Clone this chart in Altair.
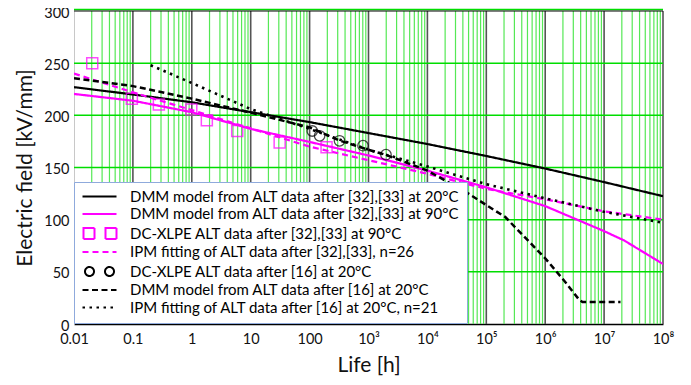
import altair as alt
import pandas as pd

# ---------------- data ----------------
series_names = [
    "DMM model from ALT data after [32],[33] at 20°C",
    "DMM model from ALT data after [32],[33] at 90°C",
    "DC-XLPE ALT data after [32],[33] at 90°C",
    "IPM fitting of ALT data after [32],[33], n=26",
    "DC-XLPE ALT data after [16] at 20°C",
    "DMM model from ALT data after [16] at 20°C",
    "IPM fitting of ALT data after [16] at 20°C, n=21",
]

dmm20_t = [0.01, 0.1, 1, 10, 100, 1e3, 1e4, 1e5, 1e6, 1e7, 1e8]
dmm20_e = [227, 220, 212.5, 203, 193.5, 183, 172.5, 161, 149, 136, 122.5]

dmm90_t = [0.01, 0.1, 1, 10, 100, 1e3, 1e4, 1e5, 1e6, 1e7, 2.2e7, 1e8]
dmm90_e = [220.5, 214, 203, 187, 174.5, 161.5, 147, 131, 113, 89, 80, 57.5]

sq90_t = [0.0204, 0.096, 0.276, 0.98, 1.8, 5.9, 31, 194]
sq90_e = [250, 216, 210.3, 205.7, 195.3, 185.1, 174, 169.5]

ipm26_t = [0.01, 0.1, 1, 10, 100, 1e3, 1e4, 1e5, 1e6, 1e7, 1e8]
ipm26_e = [240, 222, 205, 187.5, 170, 157, 144, 129.5, 119.5, 108, 100]

circ20_t = [111, 148, 322, 807, 1980]
circ20_e = [185, 180.4, 175.6, 170.9, 162.3]

dmm16_t = [0.01, 0.1, 1, 10, 100, 316, 1e3, 2e3, 1e4, 4.5e4, 1e5, 2.1e5,
           1e6, 2.24e6, 3.8e6, 4.3e6, 1.9e7]
dmm16_e = [235.5, 228, 216, 202.5, 188.5, 176, 167, 162, 147, 126.5, 114, 102.5,
           63, 39.6, 23, 21, 21]

ipm21_t = [0.2, 1, 10, 100, 1e3, 1e4, 1e5, 1e6, 1e7, 1e8]
ipm21_e = [248, 231, 206, 187, 167, 151, 134, 120.5, 107.5, 97]

x_ticks = [0.01, 0.1, 1, 10, 100, 1e3, 1e4, 1e5, 1e6, 1e7, 1e8]
y_ticks = [0, 50, 100, 150, 200, 250, 300]
minor_t = [m * 10.0 ** e for e in range(-2, 8) for m in range(2, 10)]
hgrid_e = [50, 100, 150, 200, 250]
top_e = [300]

# ---------------- styles ----------------
FONT = "Lato"
colors = ["#000000", "#ff00ff", "#ff00ff", "#ff00ff", "#000000", "#000000", "#000000"]
dashes = [[1, 0], [1, 0], [1, 0], [6, 4], [1, 0], [6, 3.5], [2.5, 4.5]]
LINE = "M-1.2,0H5.6"
SQ2 = "M-1,-1.1H1.2V1.1H-1Z M3.4,-1.1H5.6V1.1H3.4Z"
CI2 = ("M-0.7,0A0.9,0.9 0 1,1 1.1,0A0.9,0.9 0 1,1 -0.7,0Z "
       "M3.3,0A0.9,0.9 0 1,1 5.1,0A0.9,0.9 0 1,1 3.3,0Z")
shapes = [LINE, LINE, SQ2, LINE, CI2, LINE, LINE]

xs = alt.Scale(type="log", domain=[0.01, 1e8], nice=False)
ys = alt.Scale(domain=[0, 300], nice=False, zero=False)

label_expr = (
    "datum.value < 0.05 ? '0.01' : datum.value < 0.5 ? '0.1' : datum.value < 5 ? '1' : "
    "datum.value < 50 ? '10' : datum.value < 500 ? '100' : datum.value < 5e3 ? '10³' : "
    "datum.value < 5e4 ? '10⁴' : datum.value < 5e5 ? '10⁵' : datum.value < 5e6 ? '10⁶' : "
    "datum.value < 5e7 ? '10⁷' : '10⁸'"
)

xaxis = alt.Axis(values=x_ticks, labelExpr=label_expr, grid=False, ticks=False,
                 domainColor="black", domainWidth=1.5, labelFont=FONT, labelFontSize=14.5,
                 labelColor="#111111", labelPadding=8, labelFlush=False,
                 title="Life [h]", titleFont=FONT, titleFontSize=21,
                 titleFontWeight="normal", titleColor="#111111", titlePadding=9)
yaxis = alt.Axis(values=y_ticks, grid=False, ticks=False, domainColor="#c8c8c8",
                 domainWidth=1, labelFont=FONT, labelFontSize=14.5, labelColor="#111111",
                 labelPadding=5, labelOffset=2, labelFlush=False,
                 title="Electric field [kV/mm]", titleFont=FONT,
                 titleFontSize=21, titleFontWeight="normal", titleColor="#111111",
                 titlePadding=8)


def X(f):
    return alt.X(f, type="quantitative", scale=xs, axis=xaxis)


def Y(f):
    return alt.Y(f, type="quantitative", scale=ys, axis=yaxis)


def frame(t, e, name):
    return pd.DataFrame({"t": t, "E": e, "series": name})


minor_df = pd.DataFrame({"t": minor_t})
decade_df = pd.DataFrame({"t": x_ticks[1:]})
hgrid_df = pd.DataFrame({"E": hgrid_e})
top_df = pd.DataFrame({"E": top_e})

minor = alt.Chart(minor_df).mark_rule(color="#55e855", strokeWidth=1.2).encode(x=X("t"))
decades = alt.Chart(decade_df).mark_rule(color="#555555", strokeWidth=1.6).encode(x=X("t"))
hgrid = alt.Chart(hgrid_df).mark_rule(color="#00dd00", strokeWidth=1.5).encode(y=Y("E"))
top_green = alt.Chart(top_df).mark_rule(color="#00dd00", strokeWidth=1.5, yOffset=-1.5).encode(y=Y("E"))
top_black = alt.Chart(top_df).mark_rule(color="black", strokeWidth=1.2).encode(y=Y("E"))

line_specs = [
    (dmm20_t, dmm20_e, series_names[0], "#000000", [1, 0], 2.2),
    (dmm90_t, dmm90_e, series_names[1], "#ff00ff", [1, 0], 2.2),
    (ipm26_t, ipm26_e, series_names[3], "#ff00ff", [6, 4], 2.2),
    (ipm21_t, ipm21_e, series_names[6], "#000000", [2.5, 4.5], 2.6),
    (dmm16_t, dmm16_e, series_names[5], "#000000", [6, 3.5], 2.5),
]
line_layers = [
    alt.Chart(frame(t, e, n)).mark_line(color=c, strokeDash=d, strokeWidth=w, clip=True)
    .encode(x=X("t"), y=Y("E"))
    for (t, e, n, c, d, w) in line_specs
]

sq_df = frame(sq90_t, sq90_e, series_names[2])
ci_df = frame(circ20_t, circ20_e, series_names[4])

squares = alt.Chart(sq_df).mark_point(shape="square", size=121, filled=False,
                                      color="#ff00ff", strokeWidth=1.5).encode(x=X("t"), y=Y("E"))
circles = alt.Chart(ci_df).mark_point(shape="circle", size=110, filled=False,
                                      color="black", strokeWidth=1.3).encode(x=X("t"), y=Y("E"))

legend = alt.Legend(title=None, orient="none", legendX=0, legendY=171, fillColor="white",
                    strokeColor="#8faadc", padding=7, labelFont=FONT, labelFontSize=15,
                    labelColor="black", symbolSize=100, symbolStrokeWidth=2,
                    symbolOpacity=1, labelOffset=34, rowPadding=1.5, labelLimit=600,
                    symbolFillColor="transparent", zindex=2)

legend_layer = alt.Chart(sq_df).mark_point(opacity=0, filled=False).encode(
    x=X("t"), y=Y("E"),
    color=alt.Color("series:N", scale=alt.Scale(domain=series_names, range=colors), legend=legend),
    shape=alt.Shape("series:N", scale=alt.Scale(domain=series_names, range=shapes), legend=legend),
    strokeDash=alt.StrokeDash("series:N", scale=alt.Scale(domain=series_names, range=dashes),
                              legend=legend),
)

chart = alt.layer(
    minor, decades, hgrid, top_green, top_black, *line_layers, squares, circles, legend_layer
).properties(
    width=589, height=313,
    padding={"left": 66, "top": 3, "right": 20, "bottom": 52},
    autosize="none",
).configure_view(stroke=None)

chart.save("out.html", embed_options={"renderer": "svg", "actions": False})
